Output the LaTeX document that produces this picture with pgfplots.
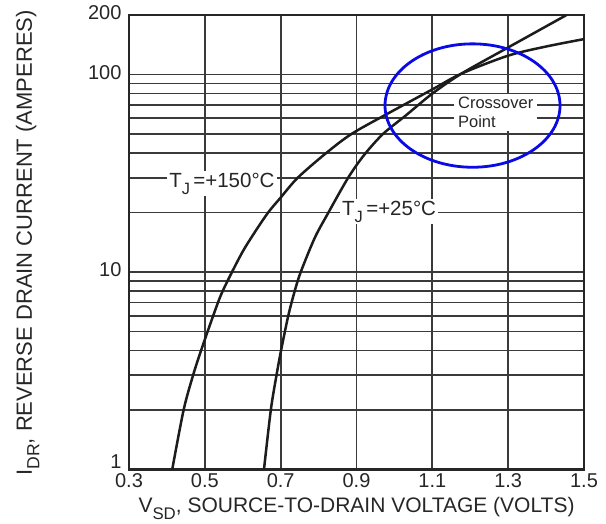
\documentclass[border=0pt]{standalone}
\usepackage{fontspec}
\setmainfont{Liberation Sans}
\usepackage{graphicx}
\usepackage{pgfplots}
\pgfplotsset{compat=1.18}
\definecolor{gridc}{HTML}{3A3A3A}
\definecolor{curvec}{HTML}{1C1C1C}
\definecolor{ellc}{HTML}{0A0AE6}
\definecolor{txtc}{HTML}{262626}
\newcommand\sub[1]{\raisebox{-0.34em}{\scalebox{0.8}{#1}}}
\begin{document}
\begin{tikzpicture}
\pgfplotsset{set layers}
\begin{axis}[
  at={(0,0)}, anchor=south west,
  scale only axis, width=455pt, height=454.5pt,
  xmin=0.3, xmax=1.5,
  ymode=log, ymin=1, ymax=200,
  xtick={0.3,0.5,0.7,0.9,1.1,1.3,1.5},
  xticklabels={0.3,0.5,0.7,0.9,1.1,1.3,1.5},
  ytick={1,10,100,200},
  yticklabels={{\raisebox{11pt}{1}},10,100,200},
  minor ytick={},
  extra y ticks={2,3,4,5,6,7,8,9,20,30,40,50,60,70,80,90},
  extra y tick labels={},
  extra y tick style={grid=major},
  xmajorgrids, ymajorgrids,
  major grid style={gridc, line width=1.8pt},
  major tick length=0pt, minor tick length=0pt,
  axis line style={line width=2.2pt, black!85},
  tick label style={font=\fontsize{20}{24}\selectfont, text=txtc},
  xticklabel style={yshift=-1pt},
  yticklabel style={xshift=-4pt, yshift=2pt},
  /pgf/number format/assume math mode=true,
]
\addplot[curvec, line width=2.5pt, smooth, tension=0.5] table {
0.414 1
0.444 2
0.469 3
0.490 4
0.522 6
0.547 8
0.595 12.2
0.628 15.5
0.667 20
0.700 23.8
0.745 30
0.820 40
0.887 50
0.980 63
1.100 84
1.177 101
1.300 124.5
1.400 138.5
1.500 151
};
\addplot[curvec, line width=2.5pt, smooth, tension=0.5] table {
0.656 1
0.674 2
0.689 3
0.701 4
0.720 6
0.737 8
0.753 10
0.790 14.9
0.826 20
0.878 30
0.920 39.1
0.970 50
1.030 62
1.100 80
1.177 101
1.300 137
1.454 200
};
\begin{pgfonlayer}{axis tick labels}
\node[fill=white, inner sep=2pt, anchor=base, font=\fontsize{20.5}{24}\selectfont, text=txtc] at (axis cs:0.545,26.9) {T\sub{J}\,=+150°C};
\node[fill=white, inner sep=2pt, anchor=base, font=\fontsize{20.5}{24}\selectfont, text=txtc] at (axis cs:0.986,19.4) {T\sub{J}\,=+25°C};
\node[fill=white, inner xsep=4pt, inner ysep=3pt, anchor=west, align=left, font=\fontsize{16.5}{18.5}\selectfont, text=txtc] at (axis cs:1.157,64.2) {Crossover\\Point};
\end{pgfonlayer}
\draw[ellc, line width=2.8pt] (axis cs:1.206,69.6) ellipse [x radius=87.5pt, y radius=61.7pt];
\end{axis}
\node[rotate=90, anchor=base, font=\fontsize{22}{26}\selectfont, text=txtc] at (-97pt,226.5pt) {I\sub{DR}, REVERSE DRAIN CURRENT (AMPERES)};
\node[anchor=base, font=\fontsize{21}{25}\selectfont, text=txtc] at (227.5pt,-42.5pt) {V\sub{SD}, SOURCE-TO-DRAIN VOLTAGE (VOLTS)};
\pgfresetboundingbox
\path[use as bounding box] (-129pt,-53.5pt) rectangle (477pt,469.5pt);
\end{tikzpicture}
\end{document}
